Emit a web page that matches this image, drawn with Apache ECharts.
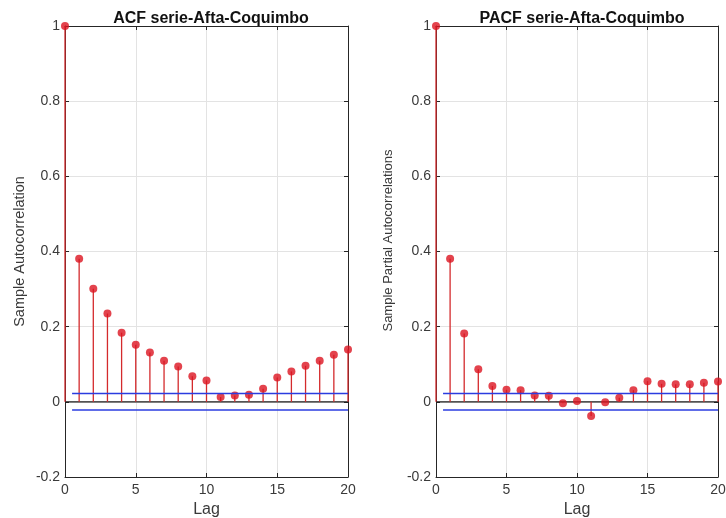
<!DOCTYPE html>
<html>
<head>
<meta charset="utf-8">
<script src="https://cdn.jsdelivr.net/npm/echarts@6/dist/echarts.min.js"></script>
<style>
  html, body { margin: 0; padding: 0; background: #fff; }
  #chart { width: 726px; height: 518px; }
</style>
</head>
<body>
<div id="chart"></div>
<script>
// lags 0..20
const lags = [0, 1, 2, 3, 4, 5, 6, 7, 8, 9, 10, 11, 12, 13, 14, 15, 16, 17, 18, 19, 20]
const acfValues = [1, 0.381, 0.301, 0.235, 0.184, 0.152, 0.131, 0.109, 0.094, 0.068, 0.057,
  0.013, 0.017, 0.019, 0.035, 0.065, 0.081, 0.096, 0.109, 0.125, 0.139]
const pacfValues = [1, 0.381, 0.182, 0.087, 0.042, 0.032, 0.031, 0.017, 0.016, -0.004, 0.002,
  -0.038, -0.001, 0.011, 0.031, 0.055, 0.048, 0.047, 0.047, 0.051, 0.054]
const confBound = 0.022
const boundRange = [0.5, 20]

const titles = ['ACF serie-Afta-Coquimbo', 'PACF serie-Afta-Coquimbo']
const yNames = ['Sample Autocorrelation', 'Sample Partial Autocorrelations']

const axisColor = '#262626'
const labelColor = '#3a3a3a'
const stemColor = '#d42a2c'
const dotColor = '#dc1420'
const boundColor = '#2b3ce0'
const font = 'Liberation Sans, Arial, Helvetica, sans-serif'

const grids = [
  { left: 65, right: 378, top: 26, bottom: 41, outerBoundsMode: 'none' },
  { left: 436, right: 8, top: 26, bottom: 41, outerBoundsMode: 'none' },
]

function fmtY(v) {
  return String(Math.round(v * 10) / 10)
}

const xAxes = []
const yAxes = []
const series = []

;[acfValues, pacfValues].forEach((vals, g) => {
  // bottom + top x axes (MATLAB box)
  xAxes.push({
    type: 'value', gridIndex: g, min: 0, max: 20, interval: 5, position: 'bottom',
    axisLine: { onZero: false, lineStyle: { color: axisColor, width: 1 } },
    axisTick: { inside: true, length: 4, lineStyle: { color: axisColor } },
    axisLabel: { color: labelColor, fontSize: 14, fontFamily: font, margin: 6 },
    splitLine: { show: true, lineStyle: { color: '#e3e3e3', width: 1 } },
    name: 'Lag', nameLocation: 'middle', nameGap: 25,
    nameTextStyle: { color: labelColor, fontSize: 16, fontFamily: font },
  })
  xAxes.push({
    type: 'value', gridIndex: g, min: 0, max: 20, interval: 5, position: 'top',
    axisLine: { onZero: false, lineStyle: { color: axisColor, width: 1 } },
    axisTick: { inside: true, length: 4, lineStyle: { color: axisColor } },
    axisLabel: { show: false }, splitLine: { show: false },
  })
  yAxes.push({
    type: 'value', gridIndex: g, min: -0.2, max: 1, interval: 0.2, position: 'left',
    axisLine: { onZero: false, lineStyle: { color: axisColor, width: 1 } },
    axisTick: { inside: true, length: 4, lineStyle: { color: axisColor } },
    axisLabel: { color: labelColor, fontSize: 14, fontFamily: font, margin: 5, formatter: fmtY },
    splitLine: { show: true, lineStyle: { color: '#e3e3e3', width: 1 } },
    name: yNames[g], nameLocation: 'middle', nameGap: g === 0 ? 38 : 41,
    nameTextStyle: {
      color: labelColor, fontSize: g === 0 ? 14.5 : 13, fontFamily: font,
      padding: g === 0 ? 0 : [0, 0, 0, 22],
    },
  })
  yAxes.push({
    type: 'value', gridIndex: g, min: -0.2, max: 1, interval: 0.2, position: 'right',
    axisLine: { onZero: false, lineStyle: { color: axisColor, width: 1 } },
    axisTick: { inside: true, length: 4, lineStyle: { color: axisColor } },
    axisLabel: { show: false }, splitLine: { show: false },
  })

  const xi = g * 2
  const yi = g * 2
  const pts = lags.map((l, i) => [l, vals[i]])

  // zero line
  series.push({
    type: 'line', xAxisIndex: xi, yAxisIndex: yi, data: [[0, 0], [20, 0]],
    symbol: 'none', silent: true, lineStyle: { color: '#1a1a1a', width: 1.2 }, z: 3,
  })
  // confidence bounds
  ;[confBound, -confBound].forEach((b) => {
    series.push({
      type: 'line', xAxisIndex: xi, yAxisIndex: yi,
      data: boundRange.map((x) => [x, b]),
      symbol: 'none', silent: true, lineStyle: { color: boundColor, width: 1.5 }, z: 6,
    })
  })
  // stems
  series.push({
    type: 'custom', xAxisIndex: xi, yAxisIndex: yi, data: pts, z: 4,
    renderItem: (params, api) => {
      const p0 = api.coord([api.value(0), 0])
      const p1 = api.coord([api.value(0), api.value(1)])
      return {
        type: 'line',
        shape: { x1: p0[0], y1: p0[1], x2: p1[0], y2: p1[1] },
        style: { stroke: stemColor, lineWidth: 1.3 },
      }
    },
  })
  // markers
  series.push({
    type: 'scatter', xAxisIndex: xi, yAxisIndex: yi, data: pts, z: 5,
    symbol: 'circle', symbolSize: 8, itemStyle: { color: dotColor },
  })
})

const chart = echarts.init(document.getElementById('chart'))
chart.setOption({
  animation: false,
  backgroundColor: '#fff',
  title: titles.map((t, g) => ({
    text: t,
    left: g === 0 ? 206 : 577,
    top: 6,
    textAlign: 'center',
    textStyle: { color: '#111', fontSize: 16, fontWeight: 'bold', fontFamily: font },
  })),
  grid: grids,
  xAxis: xAxes,
  yAxis: yAxes,
  series,
})
</script>
</body>
</html>
